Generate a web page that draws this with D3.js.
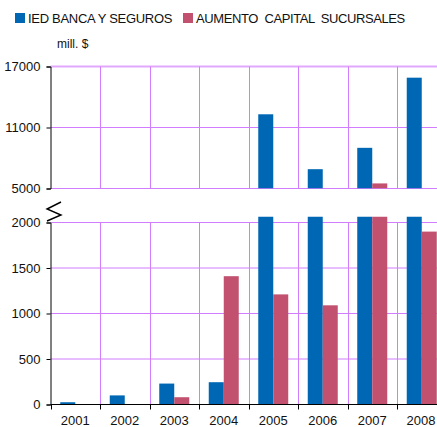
<!DOCTYPE html>
<html>
<head>
<meta charset="utf-8">
<script src="https://cdn.jsdelivr.net/npm/d3@7"></script>
<style>
body { margin: 0; background: #fff; }
text { font-family: "Liberation Sans", Arial, sans-serif; fill: #111; }
</style>
</head>
<body>
<svg id="chart" width="437" height="427"></svg>
<script>
// data (mill. $)
var years = ["2001", "2002", "2003", "2004", "2005", "2006", "2007", "2008"];
var ied = [25, 100, 230, 245, 12300, 6900, 9000, 15900];
var aumento = [0, 0, 80, 1410, 1210, 1090, 5500, 1900];
var upperTicks = [5000, 11000, 17000];
var lowerTicks = [0, 500, 1000, 1500, 2000];
var seriesNames = ["IED BANCA Y SEGUROS", "AUMENTO  CAPITAL  SUCURSALES"];
var colors = ["#0067b4", "#c1516f"];

var svg = d3.select("#chart");
var gridColor = "#d27cff";

var x = d3.scaleBand().domain(years).range([50.5, 446.5]).paddingInner(0).paddingOuter(0);
var xs = d3.scaleBand().domain([0, 1]).range([0, x.bandwidth()]).paddingInner(0).paddingOuter(0.65);

var yUp = d3.scaleLinear().domain([5000, 17000]).range([188.5, 66.5]);
var yLo = d3.scaleLinear().domain([0, 2000]).range([404.5, 222.5]);
var loMax = yLo.invert(216.5);

var rows = years.map(function (y, i) {
    return {year: y, vals: [ied[i], aumento[i]]};
});

// clip paths for the two panels
var defs = svg.append("defs");
defs.append("clipPath").attr("id", "clipUp").append("rect")
    .attr("x", 0).attr("y", yUp(17000)).attr("width", 437).attr("height", yUp(5000) - yUp(17000));
defs.append("clipPath").attr("id", "clipLo").append("rect")
    .attr("x", 0).attr("y", 216.5).attr("width", 437).attr("height", yLo(0) - 216.5);

// gridlines
var grid = svg.append("g").attr("stroke", gridColor).attr("stroke-width", 1);
upperTicks.forEach(function (t) {
    grid.append("line").attr("x1", 50.5).attr("x2", 437).attr("y1", yUp(t)).attr("y2", yUp(t))
        .attr("stroke-width", t === 17000 ? 2 : 1)
        .attr("stroke", t === 17000 ? "#e2a8ff" : gridColor);
});
lowerTicks.forEach(function (t) {
    if (t === 0) return;
    grid.append("line").attr("x1", 50.5).attr("x2", 437).attr("y1", yLo(t)).attr("y2", yLo(t));
});
years.forEach(function (y, i) {
    if (i === 0) return;
    var gx = Math.round(x(y)) + 0.5;
    grid.append("line").attr("x1", gx).attr("x2", gx).attr("y1", yUp(17000)).attr("y2", yUp(5000));
    grid.append("line").attr("x1", gx).attr("x2", gx).attr("y1", yLo(2000)).attr("y2", yLo(0));
});

// upper panel bars (only the part above 5000)
var up = svg.append("g").attr("clip-path", "url(#clipUp)");
up.selectAll("g").data(rows).enter().append("g")
    .attr("transform", function (d) { return "translate(" + x(d.year) + ",0)"; })
    .selectAll("rect").data(function (d) {
        return d.vals.map(function (v, j) { return {v: v, j: j}; }).filter(function (e) { return e.v > 5000; });
    }).enter()
    .append("rect")
    .attr("x", function (e) { return xs(e.j); })
    .attr("width", xs.bandwidth())
    .attr("y", function (e) { return yUp(e.v); })
    .attr("height", function (e) { return yUp(5000) - yUp(e.v); })
    .attr("fill", function (e) { return colors[e.j]; });

// lower panel bars
var lo = svg.append("g").attr("clip-path", "url(#clipLo)");
lo.selectAll("g").data(rows).enter().append("g")
    .attr("transform", function (d) { return "translate(" + x(d.year) + ",0)"; })
    .selectAll("rect").data(function (d) { return d.vals; }).enter()
    .append("rect")
    .attr("x", function (v, j) { return xs(j); })
    .attr("width", xs.bandwidth())
    .attr("y", function (v) { return yLo(Math.min(v, loMax)); })
    .attr("height", function (v) { return yLo(0) - yLo(Math.min(v, loMax)); })
    .attr("fill", function (v, j) { return colors[j]; });

// y axes
var axUp = svg.append("g").attr("transform", "translate(50.5,0)")
    .call(d3.axisLeft(yUp).tickValues(upperTicks).tickSize(4).tickPadding(6).tickFormat(d3.format("d")));
var axLo = svg.append("g").attr("transform", "translate(50.5,0)")
    .call(d3.axisLeft(yLo).tickValues(lowerTicks).tickSize(4).tickPadding(6).tickFormat(d3.format("d")));
[axUp, axLo].forEach(function (a) {
    a.select(".domain").attr("stroke", "#000");
    a.selectAll("text").attr("font-size", 13).attr("font-family", "Liberation Sans, Arial, sans-serif").attr("fill", "#111");
});

// x axis
var xAxis = svg.append("g").attr("transform", "translate(0," + yLo(0) + ")");
xAxis.append("line").attr("x1", 50.5).attr("x2", 437).attr("stroke", "#000");
years.forEach(function (y) {
    var tx = Math.round(x(y)) + 0.5;
    xAxis.append("line").attr("x1", tx).attr("x2", tx).attr("y1", 0).attr("y2", 5).attr("stroke", "#000");
});
xAxis.selectAll("text.yr").data(years).enter().append("text").attr("class", "yr")
    .attr("x", function (d) { return Math.min(x(d) + x.bandwidth() / 2, 421); })
    .attr("y", 20)
    .attr("text-anchor", "middle")
    .attr("font-size", 13)
    .text(function (d) { return d; });

// axis break mark
svg.append("path").attr("d", "M61,202 L47,209 L61,215 L47,221")
    .attr("fill", "none").attr("stroke", "#000").attr("stroke-width", 1.4);

// legend
var leg = svg.append("g");
var legX = [15, 183];
seriesNames.forEach(function (n, i) {
    leg.append("rect").attr("x", legX[i]).attr("y", 13).attr("width", 10).attr("height", 10).attr("fill", colors[i]);
    leg.append("text").attr("x", legX[i] + 13).attr("y", 23).attr("font-size", 13)
        .style("white-space", "pre").attr("letter-spacing", i === 0 ? -0.3 : -0.4).text(n);
});

svg.append("text").attr("x", 57).attr("y", 48).attr("font-size", 12).text("mill. $");
</script>
</body>
</html>
